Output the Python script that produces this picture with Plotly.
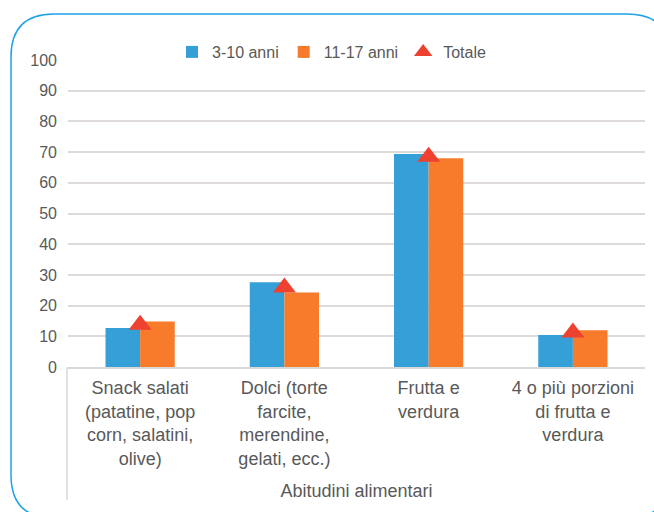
import plotly.graph_objects as go

# Dati
categorie = [
    "Snack salati<br>(patatine, pop<br>corn, salatini,<br>olive)",
    "Dolci (torte<br>farcite,<br>merendine,<br>gelati, ecc.)",
    "Frutta e<br>verdura",
    "4 o più porzioni<br>di frutta e<br>verdura",
]
anni_3_10 = [12.7, 27.6, 69.4, 10.4]
anni_11_17 = [14.8, 24.3, 68.0, 12.0]
totale = [13.8, 25.9, 68.5, 11.2]

W, H = 654, 512
L, R, T, B = 68, 9, 60, 145
PW, PH = W - L - R, H - T - B


def px(x, y):
    # pixel -> paper coords
    return (x - L) / PW, (H - B - y) / PH


def bordo(x0, y0, x1, y1, r):
    pts = [
        ("M", [(x0 + r, y0)]),
        ("L", [(x1 - r, y0)]),
        ("Q", [(x1, y0), (x1, y0 + r)]),
        ("L", [(x1, y1 - r)]),
        ("Q", [(x1, y1), (x1 - r, y1)]),
        ("L", [(x0 + r, y1)]),
        ("Q", [(x0, y1), (x0, y1 - r)]),
        ("L", [(x0, y0 + r)]),
        ("Q", [(x0, y0), (x0 + r, y0)]),
    ]
    s = ""
    for cmd, coords in pts:
        s += cmd + " " + " ".join("%.4f,%.4f" % px(a, b) for a, b in coords) + " "
    return s + "Z"


fig = go.Figure()

fig.add_trace(go.Bar(
    x=categorie, y=anni_3_10, name="3-10 anni",
    marker=dict(color="#359FD8", line=dict(width=0)),
))
fig.add_trace(go.Bar(
    x=categorie, y=anni_11_17, name="11-17 anni",
    marker=dict(color="#F77B2B", line=dict(width=0)),
))
fig.add_trace(go.Scatter(
    x=categorie, y=totale, name="Totale", mode="markers",
    marker=dict(symbol="triangle-up", size=20, color="#EE4130"),
))

fig.update_layout(
    width=W, height=H,
    margin=dict(l=L, r=R, t=T, b=B),
    paper_bgcolor="white", plot_bgcolor="white",
    font=dict(family="Liberation Sans, Arial, sans-serif", color="#595959", size=16),
    barmode="group", bargap=0.52, bargroupgap=0,
    legend=dict(
        orientation="h", x=px(172, 0)[0], xanchor="left",
        y=px(0, 52)[1], yanchor="middle",
        font=dict(size=16), itemwidth=30, tracegroupgap=0,
        bgcolor="rgba(0,0,0,0)",
    ),
    showlegend=True,
)

fig.update_xaxes(
    showline=True, linecolor="#D9D9D9", linewidth=1.5,
    tickfont=dict(size=18), ticks="", ticklabelstandoff=4,
    title=dict(text="Abitudini alimentari", font=dict(size=18), standoff=17),
)
fig.update_yaxes(
    range=[0, 100], dtick=10, showgrid=True, gridcolor="#DEDADA", gridwidth=1.5,
    zeroline=False, tickfont=dict(size=16), ticklabelstandoff=10,
)

# bordo arrotondato e linea verticale dell'asse categorie
fig.add_shape(type="path", xref="paper", yref="paper",
              path=bordo(11, 14, 670, 518, 43),
              line=dict(color="#1FA3E6", width=1.5), layer="above")
x0, y0 = px(67, 367)
x1, y1 = px(67, 500)
fig.add_shape(type="line", xref="paper", yref="paper", x0=x0, y0=y0, x1=x1, y1=y1,
              line=dict(color="#D9D9D9", width=1.5))

fig.write_html("out.html", config={"displayModeBar": False},
               post_script="document.body.style.margin='0';")
